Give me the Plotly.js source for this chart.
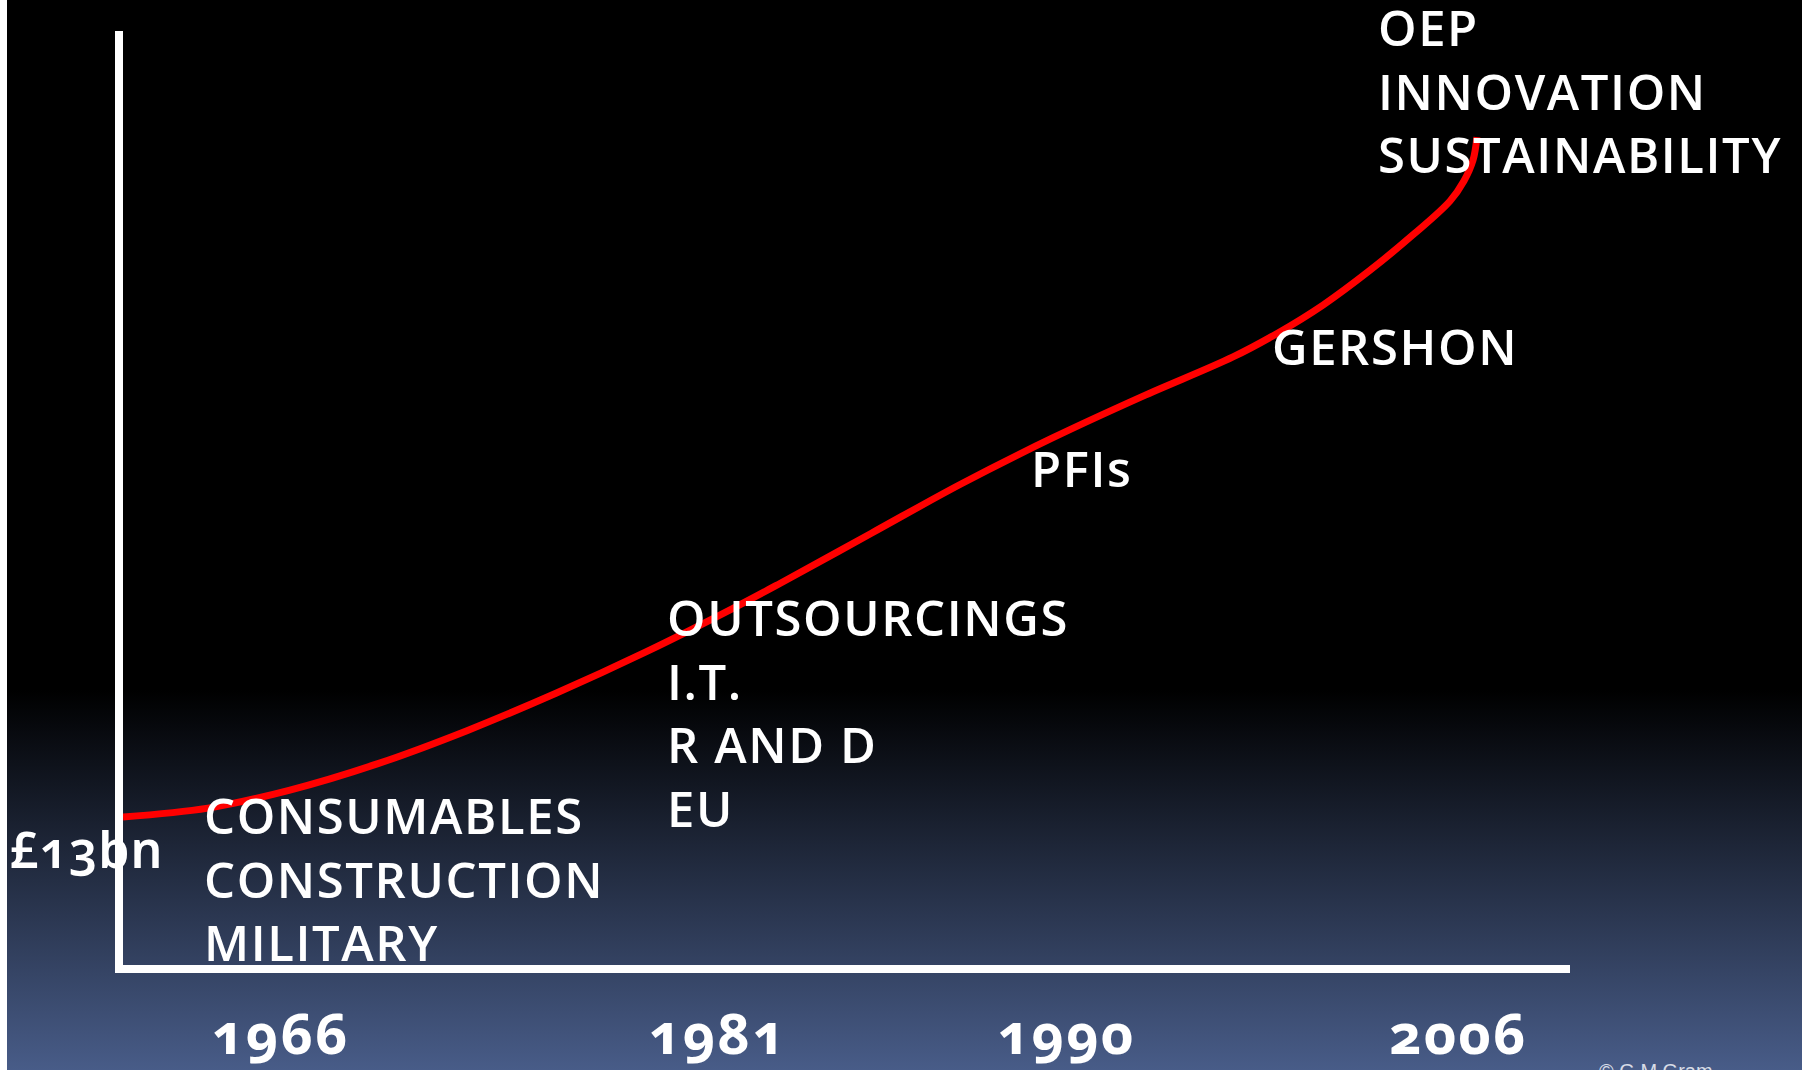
<!DOCTYPE html>
<html>
<head>
<meta charset="utf-8">
<script src="https://cdn.plot.ly/plotly-3.0.1.min.js"></script>
<style>
  html, body { margin: 0; padding: 0; }
  body {
    width: 1802px; height: 1070px; overflow: hidden;
    background:
      linear-gradient(to right, #ffffff 0px, #ffffff 7px, rgba(0,0,0,0) 7px),
      linear-gradient(to bottom, #000000 0px, #000000 690px, #485c88 1070px);
  }
  #chart { width: 1802px; height: 1070px; }
  #chart svg text { font-variant-numeric: oldstyle-nums; font-feature-settings: "onum" 1; }
  #chart .annotation-text.big { letter-spacing: 1.6px; }
  #chart .annotation-text.mid { letter-spacing: 1px; }
  #chart .xtick text { letter-spacing: 2px; }
</style>
</head>
<body>
<div id="chart"></div>
<script>
// Schematic timeline position (0-100) and spend index (0-100)
const curveX = [0, 5.87, 11.47, 17.62, 23.77, 29.92, 36.14, 42.29, 45.40, 51.69, 57.91, 64.20, 70.42, 76.71, 79.82, 82.93, 86.11, 89.22, 91.71, 92.67, 93.30, 93.57];
const curveY = [15.85, 16.80, 18.70, 21.56, 25.09, 29.09, 33.52, 38.29, 40.85, 46.20, 51.50, 56.40, 60.85, 65.10, 67.67, 70.66, 74.30, 78.27, 81.80, 83.94, 86.19, 88.65];

const yearTickPos = [10.9, 41.1, 65.2, 92.3];
const yearTickText = ['1966', '1981', '1990', '2006'];

const startValueLabel = '£13bn';
const eraLabels = [
  ['CONSUMABLES', 'CONSTRUCTION', 'MILITARY'],
  ['OUTSOURCINGS', 'I.T.', 'R AND D', 'EU'],
  ['PFIs'],
  ['GERSHON'],
  ['OEP', 'INNOVATION', 'SUSTAINABILITY']
];
const eraLabelX = [5.45, 37.48, 62.58, 79.28, 86.62];
const eraLabelY = [9.3, 27.0, 53.2, 66.3, 93.65];
const copyrightText = '© G.M.Gram';

const labelFont = { family: 'Open Sans, sans-serif', size: 49, color: '#ffffff', weight: 600 };

const annotations = eraLabels.map((lines, i) => ({
  x: eraLabelX[i], y: eraLabelY[i], xref: 'x', yref: 'y',
  text: lines.join('<br>'), showarrow: false,
  xanchor: 'left', yanchor: 'middle', align: 'left',
  font: labelFont
}));
annotations.push({
  x: -0.078, y: 12.4, xref: 'paper', yref: 'y', text: startValueLabel, showarrow: false,
  xanchor: 'left', yanchor: 'middle',
  font: { family: 'Noto Sans, Open Sans, sans-serif', size: 50, color: '#ffffff', weight: 600 }
});
annotations.push({
  x: 1.0187, y: -0.1135, xref: 'paper', yref: 'paper', text: copyrightText, showarrow: false,
  xanchor: 'left', yanchor: 'middle',
  font: { family: 'Liberation Sans, Arial, sans-serif', size: 20, color: '#d8dce6' }
});

const trace = {
  x: curveX, y: curveY, type: 'scatter', mode: 'lines',
  line: { color: '#ff0000', width: 7, shape: 'spline', smoothing: 1.0 },
  hoverinfo: 'skip', cliponaxis: false
};

const layout = {
  width: 1802, height: 1070,
  margin: { l: 123, r: 232, t: 31, b: 105, pad: 0 },
  paper_bgcolor: 'rgba(0,0,0,0)', plot_bgcolor: 'rgba(0,0,0,0)',
  showlegend: false,
  xaxis: {
    range: [0, 100], showline: true, linecolor: '#ffffff', linewidth: 8,
    showgrid: false, zeroline: false, ticks: '',
    tickvals: yearTickPos, ticktext: yearTickText,
    tickfont: { family: 'Noto Sans, Open Sans, sans-serif', size: 56, color: '#ffffff', weight: 700 },
    ticklabelstandoff: 14, fixedrange: true
  },
  yaxis: {
    range: [0, 100], showline: true, linecolor: '#ffffff', linewidth: 8,
    showgrid: false, zeroline: false, ticks: '', showticklabels: false, fixedrange: true
  },
  annotations: annotations
};

Plotly.newPlot('chart', [trace], layout, { displayModeBar: false, staticPlot: true }).then(() => {
  document.querySelectorAll('#chart .annotation-text').forEach((t, i) => {
    if (i < eraLabels.length) t.classList.add('big');
    else if (i === eraLabels.length) t.classList.add('mid');
  });
});
</script>
</body>
</html>
